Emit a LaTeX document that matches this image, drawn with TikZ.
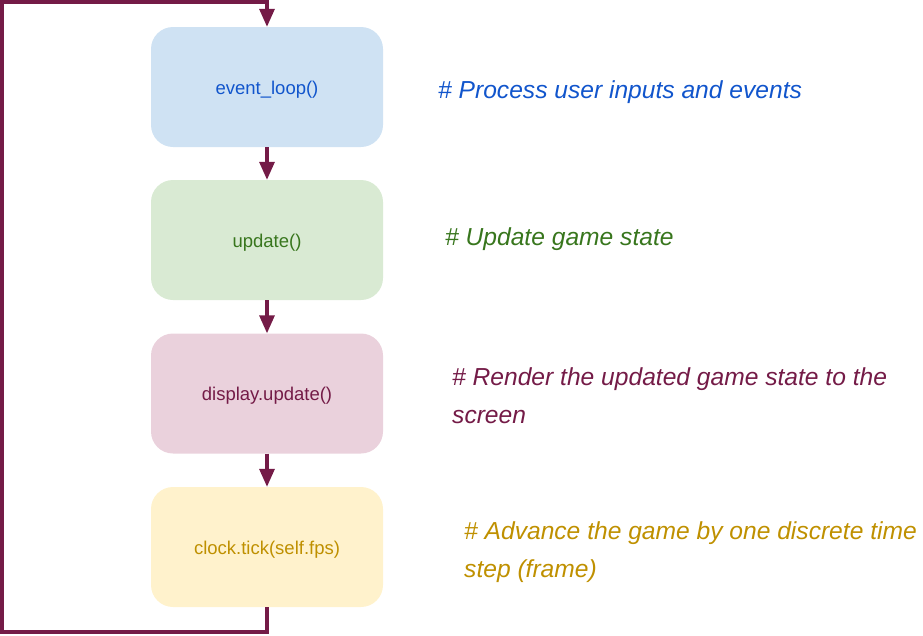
\documentclass[tikz,border=0pt]{standalone}
\usepackage{fontspec}
\setmainfont{Liberation Sans}
\usetikzlibrary{arrows.meta}
\definecolor{conncol}{HTML}{741B47}
\definecolor{bluefill}{HTML}{CFE2F3}
\definecolor{greenfill}{HTML}{D9EAD3}
\definecolor{pinkfill}{HTML}{EAD1DC}
\definecolor{yellowfill}{HTML}{FFF2CC}
\definecolor{bluetext}{HTML}{1155CC}
\definecolor{greentext}{HTML}{38761D}
\definecolor{pinktext}{HTML}{741B47}
\definecolor{goldtext}{HTML}{BF9000}
\begin{document}
\begin{tikzpicture}[x=1pt,y=-1pt,
  box/.style={minimum width=232pt,minimum height=120pt,rounded corners=22pt,inner sep=0pt,draw=none},
  boxtext/.style={inner sep=0pt,anchor=base,font=\fontsize{18.5}{22}\selectfont},
  note/.style={anchor=base west,inner sep=0pt,font=\fontsize{24.6}{30}\selectfont\itshape},
  conn/.style={draw=conncol,line width=3.2pt},
  arr/.style={conn,-{Triangle[width=15pt,length=18pt]}}]
\useasboundingbox (0,0) rectangle (923,635);
\node[box,fill=bluefill] (b1) at (267,87) {};
\node[box,fill=greenfill] (b2) at (267,240) {};
\node[box,fill=pinkfill] (b3) at (267,393.5) {};
\node[box,fill=yellowfill] (b4) at (267,547) {};
\node[boxtext,text=bluetext] (t1) at (267,94) {event\_loop()};
\node[boxtext,text=greentext] (t2) at (267,247) {update()};
\node[boxtext,text=pinktext] (t3) at (267,400.5) {display.update()};
\node[boxtext,text=goldtext] (t4) at (267,554) {clock.tick(self.fps)};
\draw[arr] (b1.south) -- (b2.north);
\draw[arr] (b2.south) -- (b3.north);
\draw[arr] (b3.south) -- (b4.north);
\coordinate (lb) at (2,632);
\coordinate (lt) at (2,2);
\draw[arr] (b4.south) |- (lb) -- (lt) -| (b1.north);
\node[note,text=bluetext] (n1) at (438,98) {\# Process user inputs and events};
\node[note,text=greentext] (n2) at (445,245) {\# Update game state};
\node[note,text=pinktext] (n3a) at (452,385) {\# Render the updated game state to the};
\node[note,text=pinktext] (n3b) at (452,423) {screen};
\node[note,text=goldtext] (n4a) at (464,539) {\# Advance the game by one discrete time};
\node[note,text=goldtext] (n4b) at (464,577) {step (frame)};
\end{tikzpicture}
\end{document}
